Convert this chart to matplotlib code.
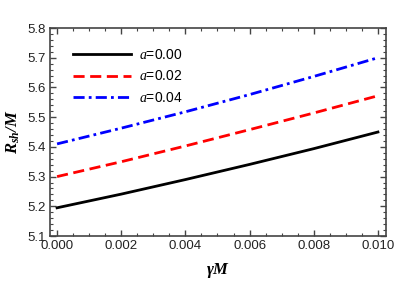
import numpy as np
import matplotlib
matplotlib.use("Agg")
import matplotlib.pyplot as plt
from matplotlib.ticker import MultipleLocator

# valeurs
gamma_M = [0.000, 0.002, 0.004, 0.006, 0.008, 0.010]
r_a000 = [5.195, 5.241, 5.290, 5.341, 5.394, 5.450]
r_a002 = [5.300, 5.350, 5.403, 5.458, 5.514, 5.572]
r_a004 = [5.410, 5.463, 5.518, 5.576, 5.637, 5.700]
labels = ["$a$=0.00", "$a$=0.02", "$a$=0.04"]

plt.rcParams['font.family'] = 'Liberation Sans'
plt.rcParams['mathtext.fontset'] = 'custom'
plt.rcParams['mathtext.it'] = 'Liberation Serif:italic'
plt.rcParams['mathtext.rm'] = 'Liberation Serif'
plt.rcParams['mathtext.bf'] = 'Liberation Serif:italic:bold'

fig = plt.figure(figsize=(4.15, 2.83), dpi=100)
ax = fig.add_axes([0.1205, 0.166, 0.8095, 0.735])

ax.plot(gamma_M, r_a000, color='black', lw=2, label=labels[0])
ax.plot(gamma_M, r_a002, color='red', lw=2, ls=(0, (4, 2)), label=labels[1])
ax.plot(gamma_M, r_a004, color='blue', lw=2, ls=(0, (4, 1.5, 1, 1.5)), label=labels[2])

ax.set_xlim(-0.00022, 0.01025)
ax.set_ylim(5.1, 5.8)
ax.xaxis.set_major_locator(MultipleLocator(0.002))
ax.xaxis.set_minor_locator(MultipleLocator(0.0005))
ax.yaxis.set_major_locator(MultipleLocator(0.1))
ax.yaxis.set_minor_locator(MultipleLocator(0.02))
ax.xaxis.set_major_formatter(matplotlib.ticker.FormatStrFormatter('%.3f'))
ax.yaxis.set_major_formatter(matplotlib.ticker.FormatStrFormatter('%.1f'))

for s in ax.spines.values():
    s.set_color('#444444')
    s.set_linewidth(1.2)
ax.tick_params(which='both', direction='in', top=True, right=True, color='#444444',
               labelsize=9.5, labelcolor='#222222', pad=3)
ax.tick_params(which='major', length=4, width=1)
ax.tick_params(which='minor', length=2, width=0.8)

ax.set_xlabel(r'$\mathbf{\gamma M}$', fontsize=12, labelpad=6)
ax.set_ylabel(r'$\mathbf{R_{sh}/M}$', fontsize=12, labelpad=4)

leg = ax.legend(loc='upper left', bbox_to_anchor=(0.03, 0.965), frameon=False,
                handlelength=4.2, labelspacing=0.55, fontsize=10, handletextpad=0.6)

fig.savefig('out.png', dpi=100)
